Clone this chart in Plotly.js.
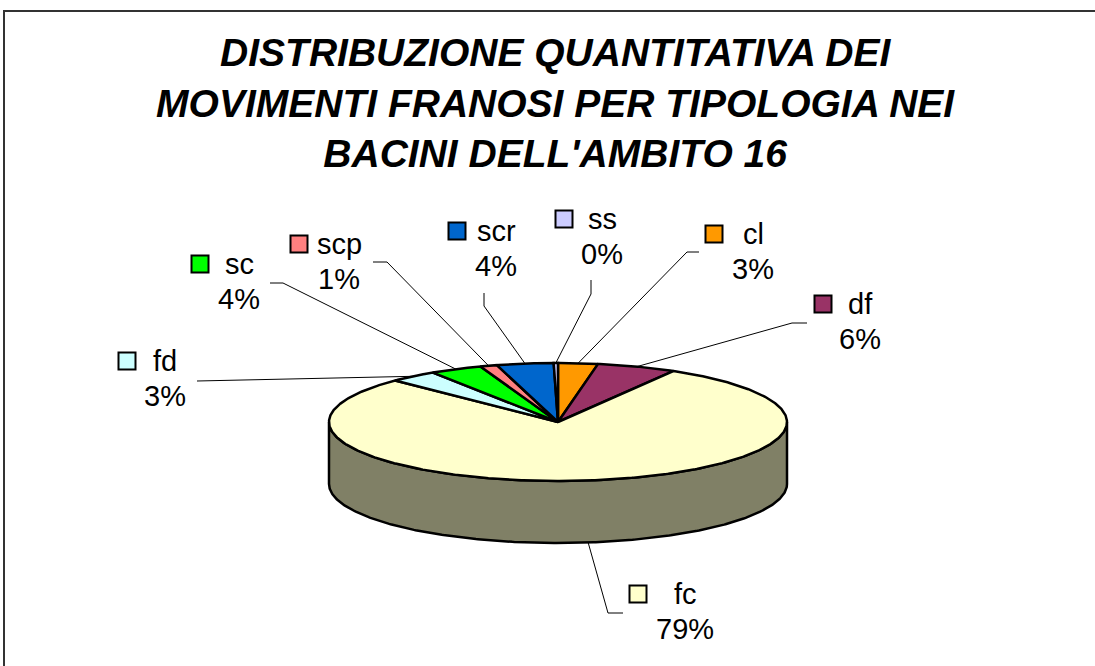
<!DOCTYPE html>
<html>
<head>
<meta charset="utf-8">
<script src="https://cdn.plot.ly/plotly-3.0.1.min.js"></script>
<style>html,body{margin:0;padding:0;background:#fff}#chart{width:1095px;height:666px}</style>
</head>
<body>
<div id="chart"></div>
<script>
// ---- data ----
const categories = ['cl', 'df', 'fc', 'fd', 'sc', 'scp', 'scr', 'ss'];
const values = [2.8, 5.6, 79.0, 3.4, 3.7, 1.2, 4.0, 0.3];
const sliceColors = ['#FF9900', '#993366', '#FFFFCC', '#CCFFFF', '#00FF00', '#FF8080', '#0066CC', '#CCCCFF'];
const titleText = "DISTRIBUZIONE QUANTITATIVA DEI<br>MOVIMENTI FRANOSI PER TIPOLOGIA NEI<br>BACINI DELL'AMBITO 16";

// ---- label layout (pixel positions of the label blocks) ----
const labelTextX = [753, 860, 685, 165, 239, 339, 496, 602];
const labelNameY = [234, 304, 594, 361, 264, 244, 231, 219];
const labelKeyX  = [714, 823, 638, 127, 200, 299, 457, 564];
const leaderElbow = [[687,252],[792,323],[608,613],[210,381],[283,283],[387,262],[484,306],[591,294]];
const leaderEnd   = [[699,252],[807,323],[623,613],[197,381],[270,283],[373,262],[484,293],[591,280]];

// ---- pie geometry ----
const cx = 558, cy = 422, rx = 229, ry = 59, depth = 62;
function pt(theta, dy) {
  const r = theta * Math.PI / 180;
  return [cx + rx * Math.sin(r), cy - ry * Math.cos(r) + (dy || 0)];
}
function darken(hex, f) {
  const n = parseInt(hex.slice(1), 16);
  const r = Math.round(((n >> 16) & 255) * f), g = Math.round(((n >> 8) & 255) * f), b = Math.round((n & 255) * f);
  return 'rgb(' + r + ',' + g + ',' + b + ')';
}

const total = values.reduce((a, b) => a + b, 0);
const starts = [], ends = [];
let acc = 0;
values.forEach(v => { starts.push(acc / total * 360); acc += v; ends.push(acc / total * 360); });

const traces = [];

// leader lines
categories.forEach((c, i) => {
  const mid = (starts[i] + ends[i]) / 2;
  const front = Math.cos(mid * Math.PI / 180) < 0;
  const s = pt(mid, front ? depth : 0);
  traces.push({
    type: 'scatter', mode: 'lines', x: [s[0], leaderElbow[i][0], leaderEnd[i][0]],
    y: [s[1], leaderElbow[i][1], leaderEnd[i][1]],
    line: { color: '#000', width: 1 }, hoverinfo: 'skip', showlegend: false
  });
});

// side walls (front half only: 90..270 deg)
categories.forEach((c, i) => {
  const a = Math.max(starts[i], 90), b = Math.min(ends[i], 270);
  if (b <= a) return;
  const xs = [], ys = [];
  const n = Math.max(2, Math.ceil((b - a) / 0.5));
  for (let k = 0; k <= n; k++) { const p = pt(a + (b - a) * k / n); xs.push(p[0]); ys.push(p[1]); }
  for (let k = n; k >= 0; k--) { const p = pt(a + (b - a) * k / n, depth); xs.push(p[0]); ys.push(p[1]); }
  xs.push(xs[0]); ys.push(ys[0]);
  traces.push({
    type: 'scatter', mode: 'lines', x: xs, y: ys, fill: 'toself',
    fillcolor: darken(sliceColors[i], 0.5), line: { color: '#000', width: 2.5 },
    hoverinfo: 'skip', showlegend: false
  });
});

// top faces
categories.forEach((c, i) => {
  const xs = [cx], ys = [cy];
  const a = starts[i], b = ends[i];
  const n = Math.max(2, Math.ceil((b - a) / 0.5));
  for (let k = 0; k <= n; k++) { const p = pt(a + (b - a) * k / n); xs.push(p[0]); ys.push(p[1]); }
  xs.push(cx); ys.push(cy);
  traces.push({
    type: 'scatter', mode: 'lines', x: xs, y: ys, fill: 'toself',
    fillcolor: sliceColors[i], line: { color: '#000', width: 2.5 },
    name: c, hoverinfo: 'name', showlegend: false
  });
});

// label keys
traces.push({
  type: 'scatter', mode: 'markers', x: labelKeyX, y: labelNameY,
  marker: { symbol: 'square', size: 17, color: sliceColors, line: { color: '#000', width: 2 } },
  hoverinfo: 'skip', showlegend: false
});

const font = { family: 'Liberation Sans, Arial, sans-serif', size: 29, color: '#000' };
const annotations = [];
categories.forEach((c, i) => {
  annotations.push({ x: labelTextX[i], y: labelNameY[i], xref: 'x', yref: 'y', text: c, showarrow: false, font: font, xanchor: 'center', yanchor: 'middle' });
  annotations.push({ x: labelTextX[i], y: labelNameY[i] + 35, xref: 'x', yref: 'y', text: Math.round(values[i] / total * 100) + '%', showarrow: false, font: font, xanchor: 'center', yanchor: 'middle' });
});

const layout = {
  width: 1095, height: 666, autosize: false,
  margin: { l: 0, r: 0, t: 0, b: 0 },
  paper_bgcolor: '#fff', plot_bgcolor: '#fff',
  title: {
    text: titleText, x: 0.507, xanchor: 'center', y: 1 - 66 / 666, yanchor: 'top', yref: 'container',
    font: { family: 'Liberation Sans, Arial, sans-serif', size: 39, weight: 'bold', style: 'italic', color: '#000' }
  },
  xaxis: { range: [0, 1095], visible: false, fixedrange: true },
  yaxis: { range: [666, 0], visible: false, fixedrange: true },
  showlegend: false,
  annotations: annotations,
  shapes: [{ type: 'rect', xref: 'paper', yref: 'paper', x0: 4 / 1095, x1: 1.3, y0: -0.3, y1: 1 - 11 / 666, line: { color: '#333', width: 2 } }]
};

Plotly.newPlot('chart', traces, layout, { displayModeBar: false, staticPlot: true });
</script>
</body>
</html>
